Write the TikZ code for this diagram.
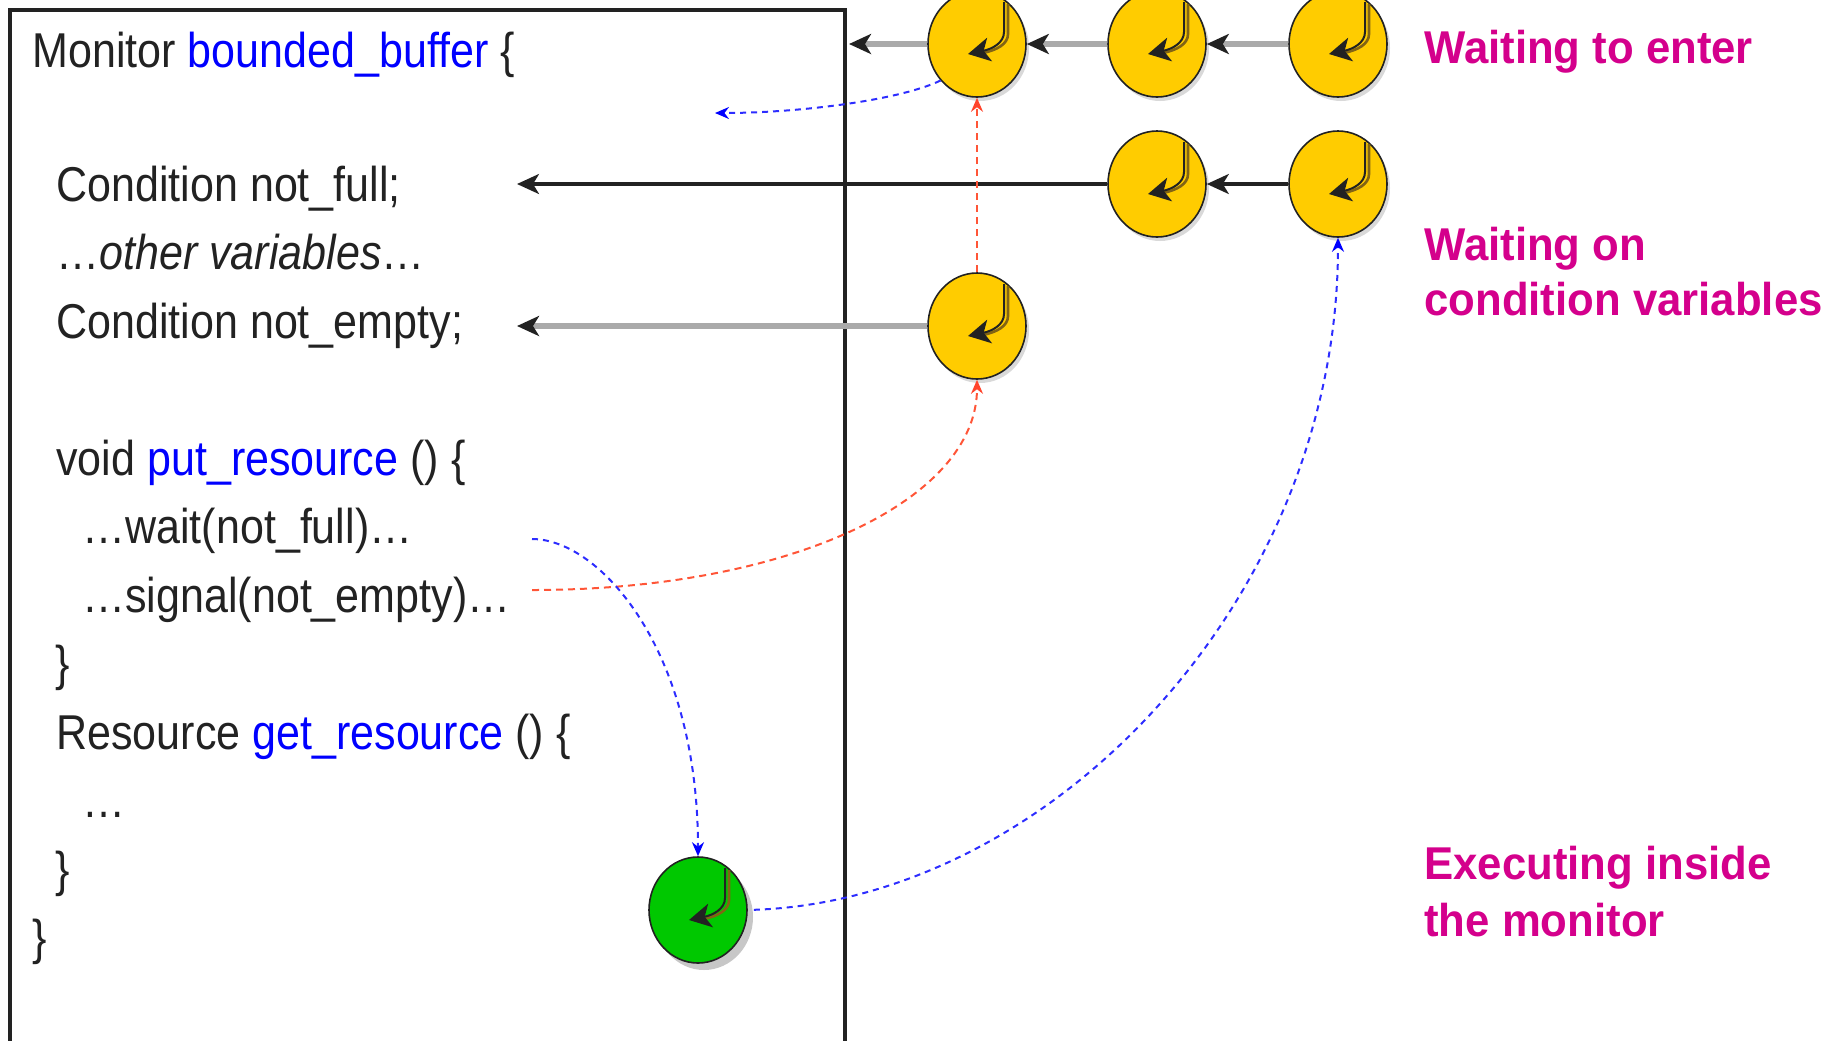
\documentclass[tikz,border=0pt]{standalone}
\usepackage{fontspec}
\setmainfont[FakeStretch=0.88]{Liberation Sans}
\newfontfamily\labelfont[FakeStretch=0.95]{Liberation Sans}
\usetikzlibrary{arrows.meta,shapes.geometric,shadows}
\definecolor{ink}{RGB}{34,34,34}
\definecolor{codeblue}{RGB}{0,0,255}
\definecolor{mag}{RGB}{212,0,140}
\definecolor{thyellow}{RGB}{255,204,0}
\definecolor{thgreen}{RGB}{0,200,0}
\definecolor{linegray}{RGB}{170,170,170}
\definecolor{sigred}{RGB}{255,85,55}
\definecolor{dashblue}{RGB}{45,45,255}
\definecolor{iconbrown}{RGB}{130,100,20}
\begin{document}
\begin{tikzpicture}[x=0.5pt,y=-0.5pt,
  code/.style={anchor=base west, inner sep=0, text=ink, font=\fontsize{24.45}{29}\selectfont},
  lab/.style={anchor=base west, inner sep=0, text=mag, font=\labelfont\bfseries\fontsize{23}{27}\selectfont},
  thread/.style={ellipse, draw=ink, line width=0.8pt, minimum width=49pt, minimum height=53pt, inner sep=0,
    drop shadow={shadow xshift=1.5pt, shadow yshift=-2pt, fill=black!15, opacity=1}},
  grayarrow/.style={draw=linegray, line width=2.6pt, -{Stealth[length=11pt,width=10pt,inset=3pt,color=ink]}},
  blackarrow/.style={draw=ink, line width=1.6pt, -{Stealth[length=11pt,width=10pt,inset=3pt,color=ink]}},
  reddash/.style={draw=sigred, line width=1pt, dash pattern=on 3.5pt off 2.5pt, -{Stealth[length=7pt,width=6pt,color=sigred!80!red]}},
  bluedash/.style={draw=dashblue, line width=1pt, dash pattern=on 3pt off 2.5pt, -{Stealth[length=7pt,width=6pt,color=codeblue]}},
  icon/.pic={
    \draw[iconbrown, line width=1.3pt] (31,-40) -- (31,-10) .. controls (31,0) and (20,6) .. (6,9);
    \draw[ink, line width=1pt, -{Stealth[length=11pt,width=12pt,inset=3pt,color=ink]}]
      (27,-42) -- (27,-12) .. controls (27,-1) and (15,5) .. (-9,10);
  }
]
\useasboundingbox (0,0) rectangle (1835,1040);
\clip (0,0) rectangle (1835,1040);

% monitor box
\draw[ink, line width=1.8pt] (10,1060) -- (10,10) -- (845,10) -- (845,1060);

% code text
\node[code] (t0) at (32,67) {Monitor \textcolor{codeblue}{bounded\_buffer} \{};
\node[code] (t2) at (56,201) {Condition not\_full;};
\node[code] (t3) at (56,269) {…\textit{other variables}…};
\node[code] (t4) at (56,338) {Condition not\_empty;};
\node[code] (t6) at (56,475) {void \textcolor{codeblue}{put\_resource} () \{};
\node[code] (t7) at (82,543) {…wait(not\_full)…};
\node[code] (t8) at (82,612) {…signal(not\_empty)…};
\node[code] (t9) at (55,680) {\}};
\node[code] (t10) at (56,749) {Resource \textcolor{codeblue}{get\_resource} () \{};
\node[code] (t11) at (82,817) {…};
\node[code] (t12) at (55,886) {\}};
\node[code] (t13) at (32,954) {\}};

% labels
\node[lab] (l1) at (1424,63) {Waiting to enter};
\node[lab] (l2) at (1424,260) {Waiting on};
\node[lab] (l3) at (1424,315) {condition variables};
\node[lab] (l4) at (1424,879) {Executing inside};
\node[lab] (l5) at (1424,936) {the monitor};

% free ends
\coordinate (entry) at (849,44);
\coordinate (nfull) at (517,184);
\coordinate (nempty) at (517,326);
\coordinate (inside) at (715,113);
\coordinate (waitpt) at (532,539);
\coordinate (sigpt) at (532,590);

% threads
\node[thread, fill=thyellow] (A1) at (977,44) {};
\node[thread, fill=thyellow] (A2) at (1157,44) {};
\node[thread, fill=thyellow] (A3) at (1338,44) {};
\node[thread, fill=thyellow] (B1) at (1157,184) {};
\node[thread, fill=thyellow] (B2) at (1338,184) {};
\node[thread, fill=thyellow] (C1) at (977,326) {};
\node[thread, fill=thgreen, drop shadow={shadow xshift=3pt, shadow yshift=-3.5pt, fill=black!22, opacity=1}] (G) at (698,910) {};

\foreach \n in {A1,A2,A3,B1,B2,C1,G} { \pic at (\n) {icon}; }

% solid connectors
\draw[grayarrow] (A3.west) -- (A2.east);
\draw[grayarrow] (A2.west) -- (A1.east);
\draw[grayarrow] (A1.west) -- (entry);
\draw[blackarrow] (B2.west) -- (B1.east);
\draw[blackarrow] (B1.west) -- (nfull);
\draw[grayarrow] (C1.west) -- (nempty);

% dashed connectors
\draw[reddash] (C1.north) -- (A1.south);
\draw[reddash] (sigpt) .. controls (790,590) and (977,500) .. (C1.south);
\draw[bluedash] (A1.225) .. controls (900,100) and (800,113) .. (inside);
\draw[bluedash] (waitpt) .. controls (600,539) and (698,650) .. (G.north);
\draw[bluedash, shorten <=3pt] (G.east) .. controls (1050,900) and (1338,600) .. (B2.south);
\end{tikzpicture}
\end{document}
